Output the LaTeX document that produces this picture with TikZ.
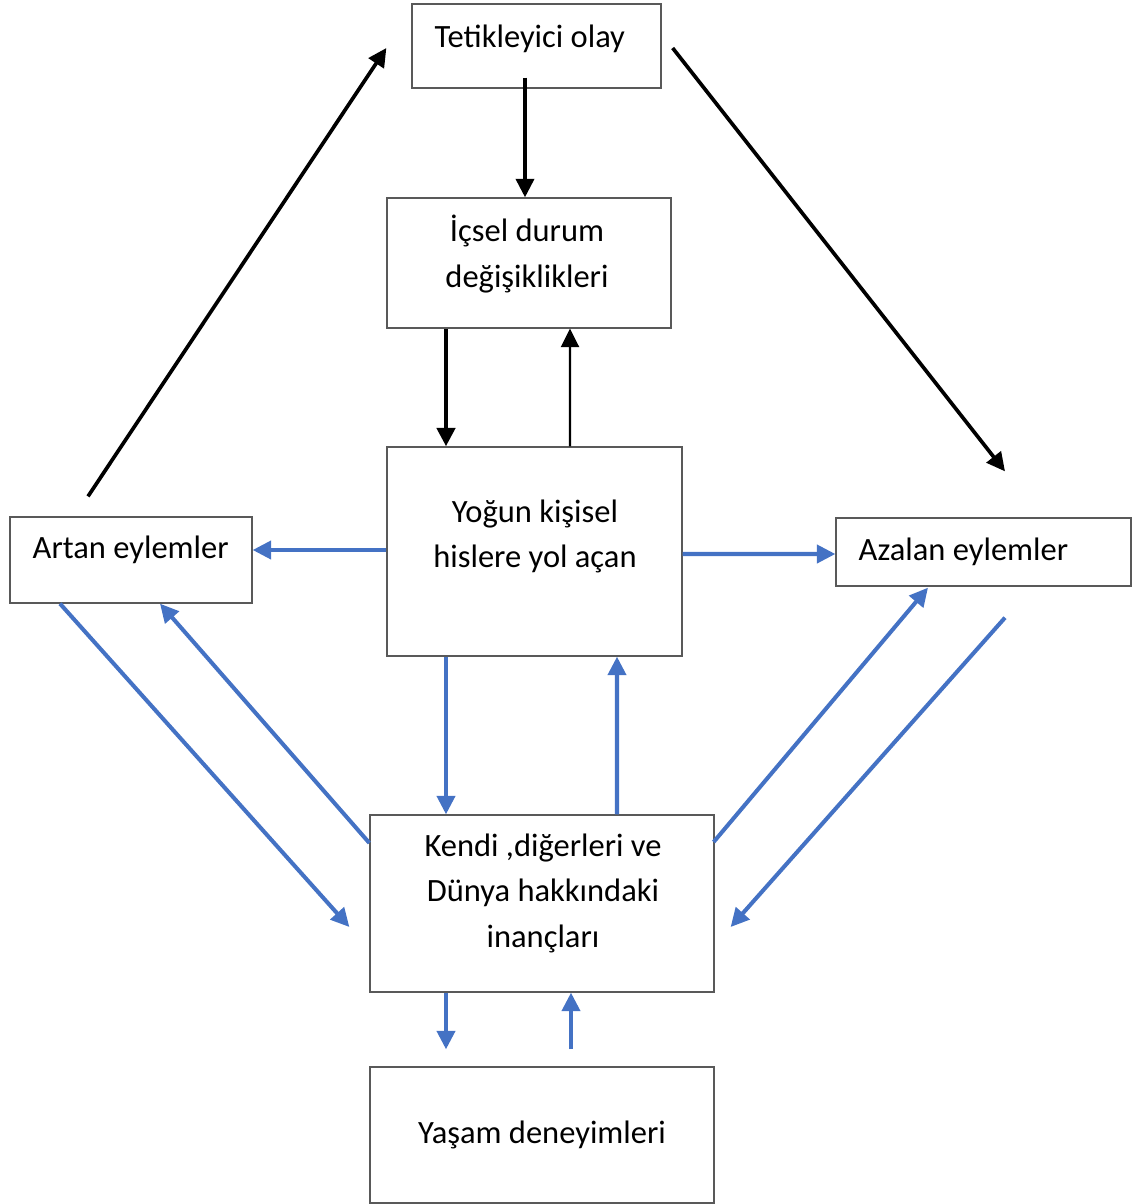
\documentclass[tikz,border=0pt]{standalone}
\usepackage{fontspec}
\setmainfont{Carlito}
\usetikzlibrary{arrows.meta}
\definecolor{linkblue}{HTML}{4472C4}

\begin{document}
\begin{tikzpicture}[
  x=0.02cm, y=-0.02cm,
  > = {Triangle[length=0.37cm,width=0.36cm]},
  box/.style = {draw=black!65, line width=0.75pt, inner sep=0pt},
  txt/.style = {inner sep=0pt, align=center, font=\fontsize{18.5}{25.9}\selectfont},
  blk/.style = {->, line width=2.1pt},
  blu/.style = {->, color=linkblue, line width=2.3pt}
  ]
  \useasboundingbox (0,0) rectangle (1132,1204);

  % boxes
  \node[box, minimum width=4.98cm, minimum height=1.68cm] (trig) at (536.5,46) {};
  \node[box, minimum width=5.68cm, minimum height=2.6cm] (icsel) at (529,263) {};
  \node[box, minimum width=5.9cm, minimum height=4.18cm] (yogun) at (534.5,551.5) {};
  \node[box, minimum width=4.84cm, minimum height=1.72cm] (artan) at (131,560) {};
  \node[box, minimum width=5.9cm, minimum height=1.36cm] (azalan) at (983.5,552) {};
  \node[box, minimum width=6.88cm, minimum height=3.54cm] (inanc) at (542,903.5) {};
  \node[box, minimum width=6.88cm, minimum height=2.72cm] (yasam) at (542,1135) {};

  % texts
  \node[txt, anchor=west] (trig-t) at ([shift={(23,-7)}]trig.west) {Tetikleyici olay};
  \node[txt] (icsel-t) at ([shift={(-2,-9)}]icsel.center) {İçsel durum\\değişiklikleri};
  \node[txt] (yogun-t) at ([shift={(0.5,-15)}]yogun.center) {Yoğun kişisel\\hislere yol açan};
  \node[txt, anchor=west] (artan-t) at ([shift={(23,-10)}]artan.west) {Artan eylemler};
  \node[txt, anchor=west] (azalan-t) at ([shift={(23,0)}]azalan.west) {Azalan eylemler};
  \node[txt] (inanc-t) at ([shift={(1,-10.5)}]inanc.center) {Kendi ,diğerleri ve\\Dünya hakkındaki\\inançları};
  \node[txt] (yasam-t) at (yasam.center) {Yaşam deneyimleri};

  % black connectors
  \draw[blk] ([shift={(-11.5,-11)}]trig.south) -- ([shift={(-4,0)}]icsel.north);
  \draw[blk, line width=2.6pt] ([shift={(-83,0)}]icsel.south) -- ([shift={(-88.5,0)}]yogun.north);
  \draw[blk, line width=1.4pt] ([shift={(35.5,0)}]yogun.north) -- ([shift={(41,0)}]icsel.south);
  \draw[blk] ([shift={(-43,-20)}]artan.north) -- ([shift={(-25,2)}]trig.west);
  \draw[blk] ([shift={(11,2)}]trig.east) -- ([shift={(21.5,-46)}]azalan.north);

  % blue connectors
  \draw[blu] ([shift={(0,-1.5)}]yogun.west) -- ([shift={(0,-10)}]artan.east);
  \draw[blu] ([shift={(0,2.5)}]yogun.east) -- ([shift={(0,2)}]azalan.west);
  \draw[blu] ([shift={(-88.5,0)}]yogun.south) -- ([shift={(-96,0)}]inanc.north);
  \draw[blu] ([shift={(75,0)}]inanc.north) -- ([shift={(82.5,0)}]yogun.south);
  \draw[blu] ([shift={(-71,0)}]artan.south) -- ([shift={(-20,23.5)}]inanc.west);
  \draw[blu] ([shift={(0,-60.5)}]inanc.west) -- ([shift={(29,0)}]artan.south);
  \draw[blu] ([shift={(-1,-61.5)}]inanc.east) -- ([shift={(-55.5,1)}]azalan.south);
  \draw[blu] ([shift={(21.5,31)}]azalan.south) -- ([shift={(16,23.5)}]inanc.east);
  \draw[blu] ([shift={(-96,0)}]inanc.south) -- ([shift={(-96,-17)}]yasam.north);
  \draw[blu] ([shift={(29,-17)}]yasam.north) -- ([shift={(29,0)}]inanc.south);
\end{tikzpicture}
\end{document}
